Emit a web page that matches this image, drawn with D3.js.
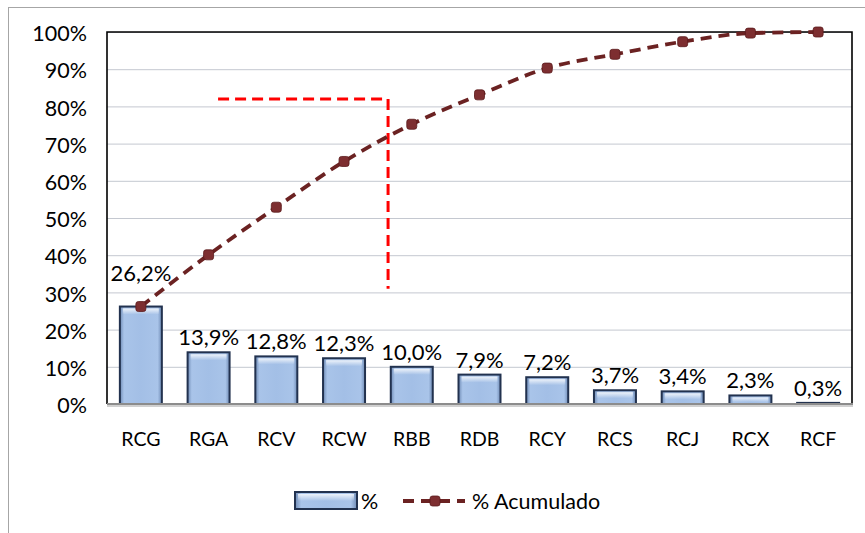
<!DOCTYPE html>
<html>
<head>
<meta charset="utf-8">
<script src="https://cdn.jsdelivr.net/npm/d3@7"></script>
<style>
  body { margin: 0; background: #fff; }
  text { font-family: Lato, "Noto Sans", sans-serif; fill: #000; }
</style>
</head>
<body>
<svg id="chart" width="865" height="533"></svg>
<script>
"use strict";

var categories = ["RCG", "RGA", "RCV", "RCW", "RBB", "RDB", "RCY", "RCS", "RCJ", "RCX", "RCF"]
var percent = [26.2, 13.9, 12.8, 12.3, 10.0, 7.9, 7.2, 3.7, 3.4, 2.3, 0.3]
var cumulative = [26.2, 40.1, 52.9, 65.2, 75.2, 83.1, 90.3, 94.0, 97.4, 99.7, 100.0]
var yTicks = [0, 10, 20, 30, 40, 50, 60, 70, 80, 90, 100]
// red guide drawn on the chart: [category position, percent]
var guide = [[1.64, 82], [4.15, 82], [4.15, 31]]
var legendNames = ["%", "% Acumulado"]

var svg = d3.select("#chart")
var plotLeft = 107, plotRight = 852, plotTop = 32, plotBottom = 404

var x = d3.scaleBand().domain(categories).range([plotLeft, plotRight]).paddingInner(0.38).paddingOuter(0.19)
var xPos = d3.scaleLinear().domain([0, categories.length]).range([plotLeft, plotRight])
var y = d3.scaleLinear().domain([0, 100]).range([plotBottom, plotTop])
var fmt = v => v.toFixed(1).replace(".", ",") + "%"

var defs = svg.append("defs")
var grad = defs.append("linearGradient").attr("id", "barFill")
grad.selectAll("stop")
    .data([[0, "#6f8bb5"], [0.1, "#a9c4e9"], [0.5, "#a3bfe6"], [0.9, "#a9c4e9"], [1, "#6f8bb5"]])
    .enter().append("stop")
    .attr("offset", d => d[0]).attr("stop-color", d => d[1])
var gradTop = defs.append("linearGradient").attr("id", "barTop").attr("x1", 0).attr("x2", 0).attr("y1", 0).attr("y2", 1)
gradTop.append("stop").attr("offset", 0).attr("stop-color", "#ffffff").attr("stop-opacity", 0.8)
gradTop.append("stop").attr("offset", 1).attr("stop-color", "#ffffff").attr("stop-opacity", 0)

// outer chart border
svg.append("rect")
    .attr("x", 8.5).attr("y", 7.5).attr("width", 900).attr("height", 600)
    .attr("fill", "none").attr("stroke", "#a6a6a6").attr("stroke-width", 1)

// gridlines
svg.append("g").selectAll("line")
    .data(yTicks.slice(1))
    .enter().append("line")
    .attr("x1", plotLeft).attr("x2", plotRight)
    .attr("y1", d => y(d) + 0.5).attr("y2", d => y(d) + 0.5)
    .attr("stroke", "#c4c8d0").attr("stroke-width", 1)

// y axis
var yAxis = d3.axisLeft(y).tickValues(yTicks).tickFormat(d => d + "%").tickSize(0).tickPadding(20)
var gy = svg.append("g").attr("transform", "translate(" + plotLeft + ",0)").call(yAxis)
gy.select(".domain").remove()
gy.selectAll("text").style("font-size", "21.5px").attr("dy", "0.4em")

// plot frame
svg.append("path")
    .attr("d", "M" + plotLeft + "," + plotBottom + "V" + plotTop + "H" + plotRight + "V" + plotBottom)
    .attr("fill", "none").attr("stroke", "#000").attr("stroke-width", 1.6)

// bars
var bars = svg.append("g")
bars.selectAll("rect.bar")
    .data(percent)
    .enter().append("rect")
    .attr("class", "bar")
    .attr("x", (d, i) => x(categories[i]))
    .attr("width", x.bandwidth())
    .attr("y", d => y(d))
    .attr("height", d => plotBottom - y(d))
    .attr("fill", "url(#barFill)")
    .attr("stroke", "#22324f").attr("stroke-width", 2)
bars.selectAll("rect.hl")
    .data(percent)
    .enter().append("rect")
    .attr("class", "hl")
    .attr("x", (d, i) => x(categories[i]) + 3)
    .attr("width", x.bandwidth() - 6)
    .attr("y", d => y(d) + 2)
    .attr("height", d => Math.min(6, Math.max(0, plotBottom - y(d) - 4)))
    .attr("fill", "url(#barTop)")

// x axis line
svg.append("line")
    .attr("x1", plotLeft).attr("x2", plotRight + 1).attr("y1", plotBottom + 2).attr("y2", plotBottom + 2)
    .attr("stroke", "#d0d0d0").attr("stroke-width", 2)
svg.append("line")
    .attr("x1", plotLeft).attr("x2", plotRight + 1).attr("y1", plotBottom).attr("y2", plotBottom)
    .attr("stroke", "#8c8c8c").attr("stroke-width", 2)

var xAxis = d3.axisBottom(x).tickSize(0).tickPadding(28)
var gx = svg.append("g").attr("transform", "translate(0," + plotBottom + ")").call(xAxis)
gx.select(".domain").remove()
gx.selectAll("text").style("font-size", "19.5px")

// bar value labels
svg.append("g").selectAll("text")
    .data(percent)
    .enter().append("text")
    .attr("x", (d, i) => x(categories[i]) + x.bandwidth() / 2)
    .attr("y", (d, i) => y(d) - (i === 0 ? 26 : 7))
    .attr("text-anchor", "middle")
    .style("font-size", "22px")
    .text(fmt)

// red guide
svg.append("path")
    .datum(guide)
    .attr("d", d3.line().x(d => xPos(d[0])).y(d => y(d[1])))
    .attr("fill", "none").attr("stroke", "#ff0000").attr("stroke-width", 3)
    .attr("stroke-dasharray", "11,6")

// cumulative line
var cx = (d, i) => x(categories[i]) + x.bandwidth() / 2
svg.append("path")
    .datum(cumulative)
    .attr("d", d3.line().x(cx).y(d => y(d)).curve(d3.curveMonotoneX))
    .attr("fill", "none").attr("stroke", "#6b2222").attr("stroke-width", 3.8)
    .attr("stroke-dasharray", "11,7")

svg.append("g").selectAll("rect")
    .data(cumulative)
    .enter().append("rect")
    .attr("x", (d, i) => cx(d, i) - 5)
    .attr("y", d => y(d) - 5)
    .attr("width", 10).attr("height", 10).attr("rx", 2.5)
    .attr("fill", "#7d2e30").attr("stroke", "#5a1a1c").attr("stroke-width", 0.8)

// legend
var legend = svg.append("g")
legend.append("rect")
    .attr("x", 295).attr("y", 492).attr("width", 62).attr("height", 17)
    .attr("fill", "url(#barFill)").attr("stroke", "#22324f").attr("stroke-width", 2)
legend.append("rect")
    .attr("x", 298).attr("y", 494).attr("width", 56).attr("height", 7)
    .attr("fill", "url(#barTop)")
legend.append("text").attr("x", 361).attr("y", 509).style("font-size", "21.5px").text(legendNames[0])
legend.append("line")
    .attr("x1", 403).attr("x2", 465).attr("y1", 501).attr("y2", 501)
    .attr("stroke", "#6b2222").attr("stroke-width", 3.8).attr("stroke-dasharray", "11,7")
legend.append("rect")
    .attr("x", 430).attr("y", 496).attr("width", 10).attr("height", 10).attr("rx", 2.5)
    .attr("fill", "#7d2e30").attr("stroke", "#5a1a1c").attr("stroke-width", 0.8)
legend.append("text").attr("x", 472).attr("y", 509).style("font-size", "21.5px").text(legendNames[1])
</script>
</body>
</html>
